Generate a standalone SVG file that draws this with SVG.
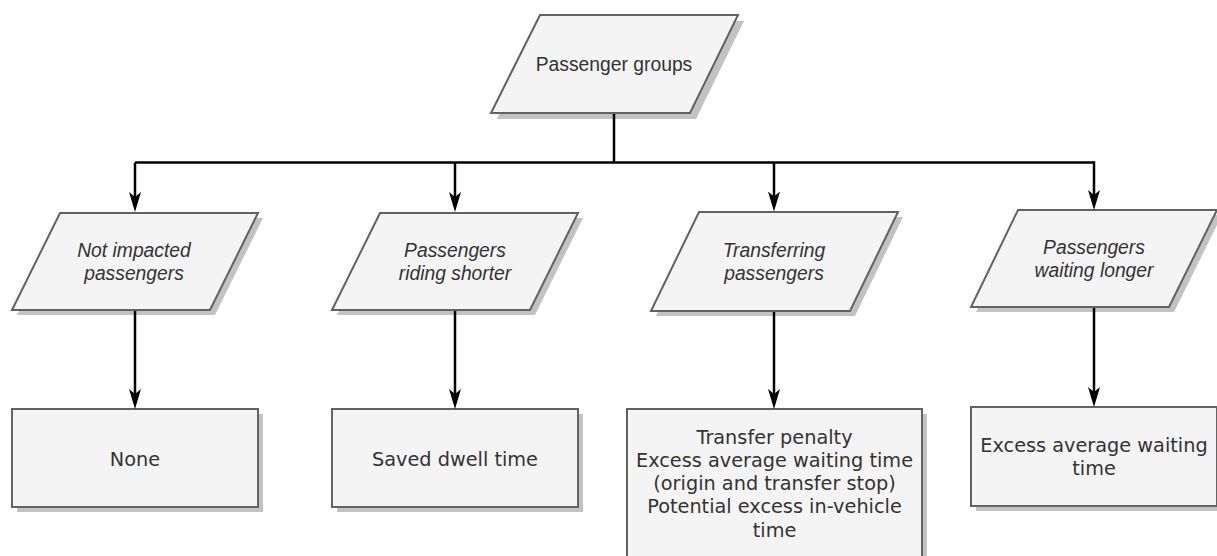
<svg xmlns="http://www.w3.org/2000/svg" width="1217" height="556" viewBox="0 0 1217 556">
<defs>
<style>
.shape{fill:#f4f4f4;stroke:#626262;stroke-width:2;}
.shadow{fill:#c2c2c2;stroke:none;}
.pt{font-family:"Liberation Sans",Arial,sans-serif;font-size:19.3px;fill:#333333;text-anchor:middle;}
.it{font-style:italic;}
.bt{font-family:"DejaVu Sans",Verdana,sans-serif;font-size:19.3px;fill:#333333;text-anchor:middle;}
.conn{fill:none;stroke:#000000;stroke-width:2.5;}
</style>
<marker id="arr" viewBox="0 0 20 12" refX="14" refY="6" markerWidth="20" markerHeight="12" markerUnits="userSpaceOnUse" orient="auto">
<path d="M20,6 L0,0 L5,6 L0,12 Z" fill="#000000"/>
</marker>
</defs>
<rect width="1217" height="556" fill="#ffffff"/>

<g id="n-groups">
<polygon class="shadow" points="546,21 744,21 696,119 497,119"/>
<polygon class="shape" points="540,15 738,15 690,113 491,113"/>
<text class="pt" x="614" y="71">Passenger groups</text>
</g>

<g id="n-not-impacted">
<polygon class="shadow" points="65,218 263,218 215,315 17,315"/>
<polygon class="shape" points="60,213 258,213 210,310 12,310"/>
<text class="pt it" x="134" y="257">Not impacted</text>
<text class="pt it" x="134" y="280">passengers</text>
</g>

<g id="n-riding-shorter">
<polygon class="shadow" points="385,218 583,218 535,315 337,315"/>
<polygon class="shape" points="380,213 578,213 530,310 332,310"/>
<text class="pt it" x="455" y="257">Passengers</text>
<text class="pt it" x="455" y="280">riding shorter</text>
</g>

<g id="n-transferring">
<polygon class="shadow" points="704,217 903,217 855,316 656,316"/>
<polygon class="shape" points="699,212 898,212 850,311 651,311"/>
<text class="pt it" x="774" y="257">Transferring</text>
<text class="pt it" x="774" y="280">passengers</text>
</g>

<g id="n-waiting-longer">
<polygon class="shadow" points="1023,215 1222,215 1174,312 976,312"/>
<polygon class="shape" points="1018,210 1217,210 1169,307 971,307"/>
<text class="pt it" x="1094" y="254">Passengers</text>
<text class="pt it" x="1094" y="277">waiting longer</text>
</g>

<g id="b-none">
<rect class="shadow" x="17" y="414" width="246" height="98"/>
<rect class="shape" x="12" y="409" width="246" height="98"/>
<text class="bt" x="135" y="466">None</text>
</g>

<g id="b-saved-dwell">
<rect class="shadow" x="337" y="414" width="246" height="98"/>
<rect class="shape" x="332" y="409" width="246" height="98"/>
<text class="bt" x="455" y="466">Saved dwell time</text>
</g>

<g id="b-transfer">
<rect class="shadow" x="632" y="414" width="295" height="170"/>
<rect class="shape" x="627" y="409" width="295" height="170"/>
<text class="bt" x="774.5" y="443.5">Transfer penalty</text>
<text class="bt" x="774.5" y="466.8">Excess average waiting time</text>
<text class="bt" x="774.5" y="490.1">(origin and transfer stop)</text>
<text class="bt" x="774.5" y="513.4">Potential excess in-vehicle</text>
<text class="bt" x="774.5" y="536.7">time</text>
</g>

<g id="b-excess-wait">
<rect class="shadow" x="976" y="412" width="246" height="99"/>
<rect class="shape" x="971" y="407" width="246" height="99"/>
<text class="bt" x="1094" y="451.5">Excess average waiting</text>
<text class="bt" x="1094" y="474.8">time</text>
</g>

<g id="connectors">
<polyline class="conn" points="614,114 614,162.5"/>
<polyline class="conn" points="135,162.5 1094,162.5"/>
<line class="conn" x1="135" y1="162.5" x2="135" y2="206" marker-end="url(#arr)"/>
<line class="conn" x1="455" y1="162.5" x2="455" y2="206" marker-end="url(#arr)"/>
<line class="conn" x1="774" y1="162.5" x2="774" y2="205.5" marker-end="url(#arr)"/>
<line class="conn" x1="1094" y1="161.25" x2="1094" y2="204" marker-end="url(#arr)"/>
<line class="conn" x1="135" y1="311" x2="135" y2="403" marker-end="url(#arr)"/>
<line class="conn" x1="455" y1="311" x2="455" y2="403" marker-end="url(#arr)"/>
<line class="conn" x1="774" y1="312" x2="774" y2="403" marker-end="url(#arr)"/>
<line class="conn" x1="1094" y1="308" x2="1094" y2="401" marker-end="url(#arr)"/>
</g>
</svg>
